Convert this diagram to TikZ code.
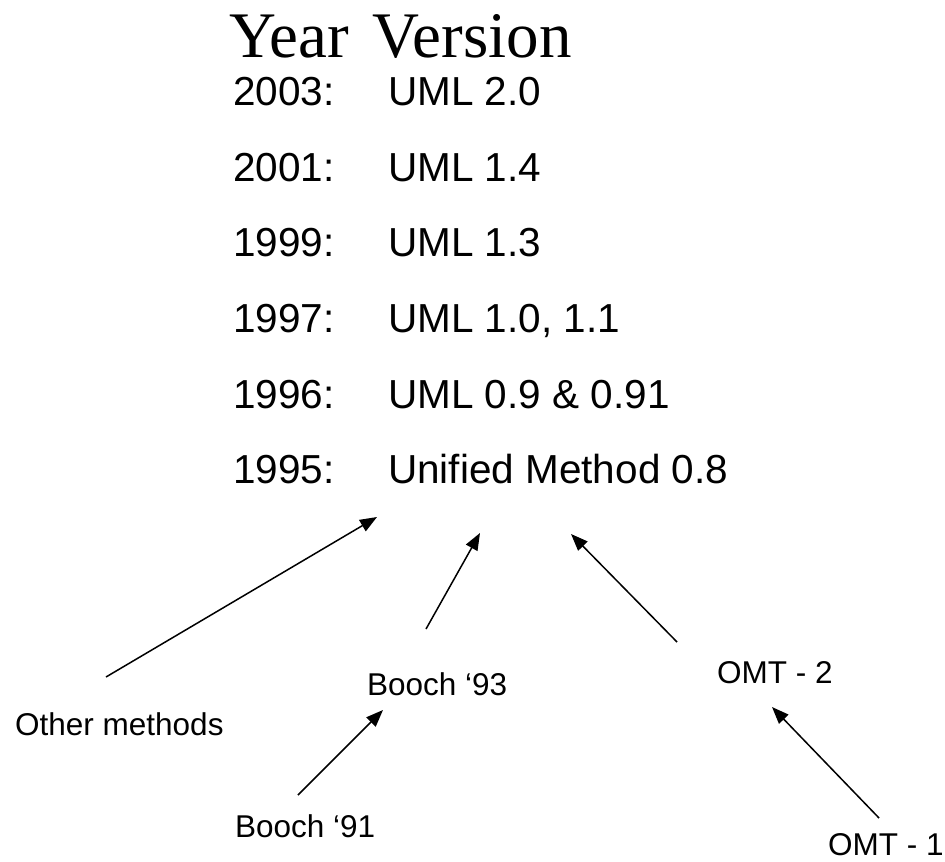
\documentclass[tikz,border=0pt]{standalone}
\usepackage{fontspec}
\setmainfont{Liberation Serif}
\newfontfamily\arial{Liberation Sans}
\usetikzlibrary{arrows.meta}
\begin{document}
\begin{tikzpicture}[x=1pt,y=-1pt,
  head/.style={font=\fontsize{65}{65}\selectfont, anchor=base west, inner sep=0pt},
  row/.style={font=\arial\fontsize{40.5}{40.5}\selectfont, anchor=base west, inner sep=0pt},
  lab/.style={font=\arial\fontsize{31.5}{31.5}\selectfont, anchor=base west, inner sep=0pt},
  arr/.style={line width=1.5pt, -{Triangle[length=17pt,width=13pt]}}]
\useasboundingbox (0,0) rectangle (945,862);
\node[head] (hdr) at (229,57) {Year\hspace{24pt}Version};
\node[row] (y1) at (233,105) {2003:};
\node[row] (v1) at (388,105) {UML 2.0};
\node[row] (y2) at (233,181) {2001:};
\node[row] (v2) at (388,181) {UML 1.4};
\node[row] (y3) at (233,256) {1999:};
\node[row] (v3) at (388,256) {UML 1.3};
\node[row] (y4) at (233,332) {1997:};
\node[row] (v4) at (388,332) {UML 1.0, 1.1};
\node[row] (y5) at (233,408) {1996:};
\node[row] (v5) at (388,408) {UML 0.9 \& 0.91};
\node[row] (y6) at (233,483) {1995:};
\node[row] (v6) at (388,483) {Unified Method 0.8};
\node[lab] (other) at (15,735) {Other methods};
\node[lab] (b93) at (367,695) {Booch ‘93};
\node[lab] (b91) at (235,837) {Booch ‘91};
\node[lab] (omt2) at (717,683) {OMT - 2};
\node[lab] (omt1) at (828,855) {OMT - 1};
\coordinate (oS) at (106,677);
\coordinate (oT) at (377,517);
\coordinate (b93S) at (426,629);
\coordinate (b93T) at (480,533);
\coordinate (o2S) at (677,642);
\coordinate (o2T) at (571,534);
\coordinate (o1S) at (879,818);
\coordinate (o1T) at (772,707);
\coordinate (b91S) at (298,795);
\coordinate (b91T) at (383,710);
\draw[arr] (oS) -- (oT);
\draw[arr] (b93S) -- (b93T);
\draw[arr] (o2S) -- (o2T);
\draw[arr] (o1S) -- (o1T);
\draw[arr] (b91S) -- (b91T);
\end{tikzpicture}
\end{document}
